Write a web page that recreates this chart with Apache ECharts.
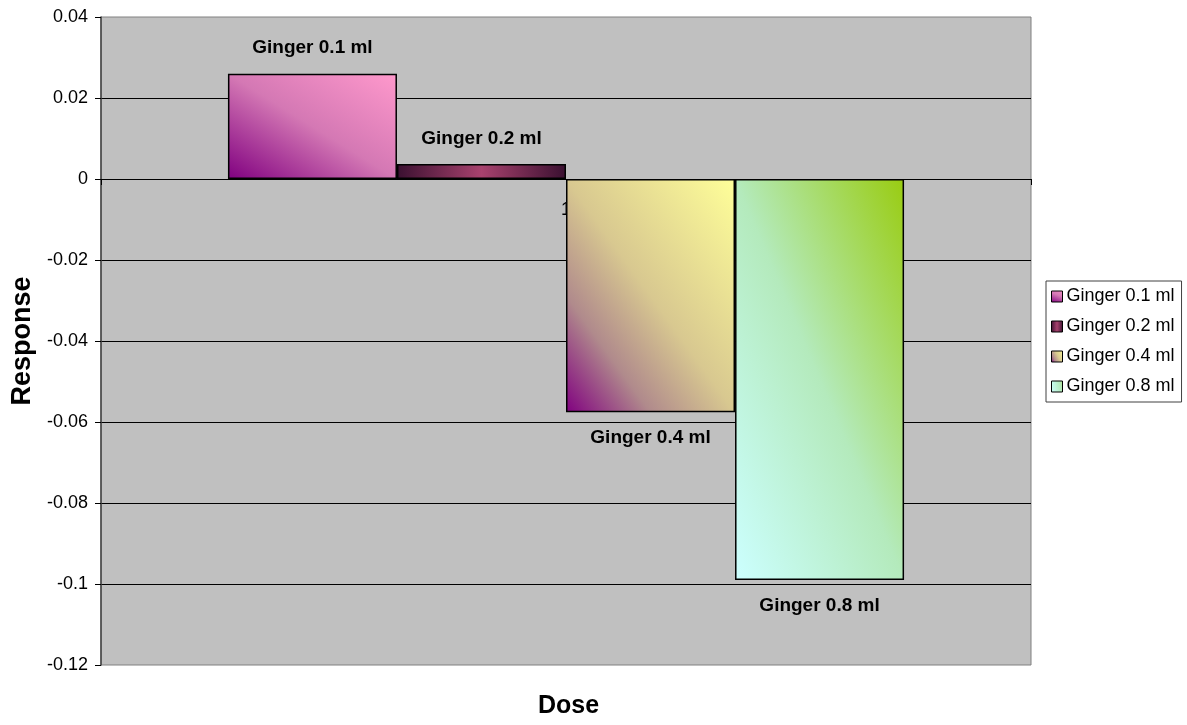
<!DOCTYPE html>
<html>
<head>
<meta charset="utf-8">
<title>Response by Dose</title>
<script src="https://cdn.jsdelivr.net/npm/echarts@6/dist/echarts.min.js"></script>
<style>
  html, body { margin: 0; padding: 0; background: #ffffff; }
  #chart { width: 1187px; height: 725px; }
</style>
</head>
<body>
<div id="chart"></div>
<script>
// Dose groups (one category) and the response of each ginger volume
const categories = ['1'];
const seriesNames = ['Ginger 0.1 ml', 'Ginger 0.2 ml', 'Ginger 0.4 ml', 'Ginger 0.8 ml'];
const ginger01 = [0.026];
const ginger02 = [0.0037];
const ginger04 = [-0.0576];
const ginger08 = [-0.099];
const seriesValues = [ginger01, ginger02, ginger04, ginger08];

const FONT = '"Liberation Sans", Arial, sans-serif';
const G = echarts.graphic.LinearGradient;

// Colour stops of each bar fill (diagonal bottom-left -> top-right, except 0.2 ml)
const fillStops = [
  [{ offset: 0, color: '#800080' }, { offset: 0.5, color: '#d478b4' }, { offset: 1, color: '#ff99cc' }],
  [{ offset: 0, color: '#3a1030' }, { offset: 0.5, color: '#a8426e' }, { offset: 1, color: '#3a1030' }],
  [{ offset: 0, color: '#800080' }, { offset: 0.25, color: '#b08a8c' }, { offset: 0.5, color: '#d8c890' }, { offset: 1, color: '#ffff99' }],
  [{ offset: 0, color: '#ccffff' }, { offset: 0.5, color: '#b4eabc' }, { offset: 1, color: '#99cc11' }]
];
const diagonal = [true, false, true, true];

function makeFill(i, w, h) {
  if (!diagonal[i]) return new G(0, 0, 1, 0, fillStops[i]);
  // Colour bands run parallel to the box diagonal (top-left -> bottom-right)
  const s = w * w + h * h;
  return new G(0, 1, 2 * h * h / s, 1 - 2 * w * w / s, fillStops[i]);
}

const chart = echarts.init(document.getElementById('chart'), null, { renderer: 'canvas' });

const series = seriesNames.map((name, i) => ({
  name: name,
  type: 'bar',
  data: seriesValues[i],
  barGap: '0%',
  barCategoryGap: '27.3%',
  itemStyle: { color: makeFill(i, 1, 1), borderColor: '#000000', borderWidth: 1.5 },
  label: {
    show: true,
    formatter: '{a}',
    position: seriesValues[i][0] >= 0 ? 'top' : 'bottom',
    distance: 16,
    color: '#000000',
    fontFamily: FONT,
    fontWeight: 'bold',
    fontSize: 19
  },
  emphasis: { disabled: true }
}));

chart.setOption({
  animation: false,
  textStyle: { fontFamily: FONT },
  grid: {
    left: 101, right: 156, top: 17, bottom: 60,
    show: true,
    backgroundColor: '#c0c0c0',
    borderColor: '#808080',
    borderWidth: 1
  },
  legend: {
    orient: 'vertical',
    left: 1046,
    top: 281,
    data: seriesNames,
    icon: 'rect',
    itemWidth: 11,
    itemHeight: 11,
    itemGap: 11,
    padding: [6, 7, 6, 5],
    backgroundColor: '#ffffff',
    borderColor: '#404040',
    borderWidth: 1,
    borderRadius: 0,
    itemStyle: { borderColor: '#000000', borderWidth: 1 },
    textStyle: { fontFamily: FONT, fontSize: 18, color: '#000000', lineHeight: 19, padding: [0, 0, 0, -1] }
  },
  xAxis: {
    type: 'category',
    data: categories,
    position: 'bottom',
    axisLine: { onZero: false, lineStyle: { color: '#000000', width: 1 } },
    axisTick: { show: true, length: 6, lineStyle: { color: '#000000' } },
    axisLabel: { color: '#000000', fontSize: 18, margin: 22, fontFamily: FONT },
    splitLine: { show: false }
  },
  yAxis: {
    type: 'value',
    min: -0.12,
    max: 0.04,
    interval: 0.02,
    name: 'Response',
    nameLocation: 'middle',
    nameRotate: 90,
    nameGap: 62,
    nameTextStyle: { fontFamily: FONT, fontSize: 27, fontWeight: 'bold', color: '#000000' },
    axisLine: { show: true, lineStyle: { color: '#404040', width: 1.5 } },
    axisTick: { show: true, length: 6, lineStyle: { color: '#000000' } },
    axisLabel: { color: '#000000', fontSize: 18, margin: 13, fontFamily: FONT },
    splitLine: { show: true, showMinLine: false, showMaxLine: false, lineStyle: { color: '#000000', width: 1 } }
  },
  graphic: [{
    type: 'text',
    left: 538,
    top: 694,
    style: {
      text: 'Dose',
      font: 'bold 25px "Liberation Sans", Arial, sans-serif',
      fill: '#000000'
    }
  }],
  series: series
});

// Move the category axis up to the zero line, and fit each diagonal fill to its bar's box
const zeroY = chart.convertToPixel({ yAxisIndex: 0 }, 0);
const bottomY = chart.convertToPixel({ yAxisIndex: 0 }, -0.12);
const model = chart.getModel();
chart.setOption({
  xAxis: { offset: -(bottomY - zeroY) },
  series: seriesNames.map((name, i) => {
    const lay = model.getSeriesByIndex(i).getData().getItemLayout(0);
    return { itemStyle: { color: makeFill(i, Math.abs(lay.width), Math.abs(lay.height)) } };
  })
});
</script>
</body>
</html>
